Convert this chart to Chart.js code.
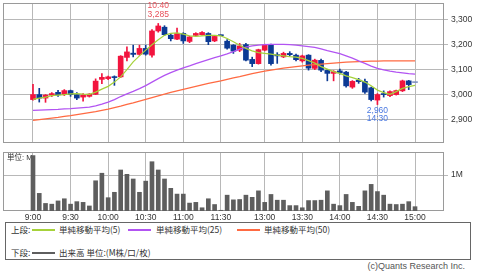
<!DOCTYPE html>
<html>
<head>
<meta charset="utf-8">
<script src="https://cdn.jsdelivr.net/npm/chart.js@4.4.1/dist/chart.umd.min.js"></script>
<style>
  body { margin: 0; width: 480px; height: 272px; background: #fff; position: relative; overflow: hidden;
    font-family: "Liberation Sans", "Noto Sans CJK JP", sans-serif; color: #333; }
  #top { position: absolute; left: 0; top: 0; width: 480px; height: 143px; }
  #vol { position: absolute; left: 0; top: 148px; width: 480px; height: 74px; }
  #legend { position: absolute; left: 5px; top: 222px; width: 464px; height: 36px; border: 1px solid #666;
    font-family: "Noto Sans CJK JP", sans-serif; font-size: 8.5px; }
  #legend span { position: absolute; white-space: nowrap; line-height: 12px; }
  #legend i { position: absolute; height: 0; border-top: 2px solid; }
  #copy { position: absolute; right: 15px; top: 261px; font-size: 9px; color: #555; }
</style>
</head>
<body>
<div id="top"><canvas id="price"></canvas></div>
<div id="vol"><canvas id="volume"></canvas></div>
<div id="legend"></div>
<div id="copy">(c)Quants Research Inc.</div>
<script>
// 5-minute bars, morning + afternoon session
const times = ["9:00","9:05","9:10","9:15","9:20","9:25","9:30","9:35","9:40","9:45","9:50","9:55",
  "10:00","10:05","10:10","10:15","10:20","10:25","10:30","10:35","10:40","10:45","10:50","10:55",
  "11:00","11:05","11:10","11:15","11:20","11:25","11:30",
  "12:30","12:35","12:40","12:45","12:50","12:55","13:00","13:05","13:10","13:15","13:20","13:25",
  "13:30","13:35","13:40","13:45","13:50","13:55","14:00","14:05","14:10","14:15","14:20","14:25",
  "14:30","14:35","14:40","14:45","14:50","14:55","15:00"];
const tickLabels = ["9:00","9:30","10:00","10:30","11:00","11:30","13:00","13:30","14:00","14:30","15:00"];
const priceTicks = [2900, 3000, 3100, 3200, 3300];

const opens = [2980,3000,2986,2998,3009,3000,3016,3000,2990,2993, 3001,3061,3064,3072,3071,3149,3166,3161,3185,3158,
  3255,3270,3238,3222,3245,3213,3237,3240,3245,3215, 3238,3214,3198,3178,3200,3141,3124,3178,3198,3160,
  3151,3165,3158,3135,3158,3105,3137,3097,3085,3095, 3090,3030,3058,3053,3027,2978,3003,2996,3000,3015, 3055,3048];
const closes = [3000,2986,2998,3004,2999,3016,3000,2986,2998,3002, 3054,3069,3071,3068,3154,3171,3161,3185,3162,3255,
  3275,3240,3224,3245,3215,3231,3245,3249,3212,3233, 3236,3186,3174,3195,3138,3124,3180,3199,3124,3155,
  3165,3160,3140,3155,3106,3138,3098,3085,3092,3087, 3035,3053,3052,3010,2980,3000,3000,3012,3016,3055, 3040,3048];
const highs = [3041,3025,3000,3008,3017,3020,3018,3008,3004,3004, 3063,3084,3074,3075,3156,3191,3198,3198,3198,3260,
  3285,3276,3244,3266,3248,3234,3248,3252,3248,3236, 3238,3220,3200,3205,3205,3150,3182,3202,3202,3168,
  3170,3172,3162,3158,3160,3142,3142,3100,3096,3102, 3093,3056,3065,3062,3030,3004,3015,3015,3018,3058, 3057,3048];
const lows = [2978,2970,2969,2992,2993,2996,2993,2980,2974,2990, 3000,3044,3060,3037,3068,3135,3151,3158,3158,3150,
  3250,3236,3215,3220,3205,3208,3235,3238,3200,3212, 3236,3182,3165,3172,3135,3112,3122,3175,3118,3125,
  3148,3155,3135,3130,3098,3100,3092,3055,3055,3082, 3030,3025,3045,3005,2975,2960,2990,2992,2998,3012, 3020,3048];

const ma5 = [2981,2986,2990,2996,2998,3000,3003,3004,3002,3001, 3010,3022,3033,3050,3071,3100,3131,3155,3178,3200,
  3220,3238,3245,3247,3242,3235,3233,3235,3237,3237, 3235,3225,3212,3198,3185,3175,3168,3165,3162,3158,
  3155,3152,3150,3145,3136,3126,3112,3102,3092,3085, 3075,3068,3060,3050,3035,3018,3008,3001,3012,3025, 3032,3037];
const ma25 = [2937,2938,2939,2940,2941,2943,2944,2946,2948,2950, 2955,2962,2970,2980,2992,3003,3013,3024,3036,3050,
  3064,3077,3088,3098,3107,3115,3124,3132,3140,3148, 3155,3163,3172,3182,3190,3195,3198,3200,3201,3201,
  3201,3200,3198,3195,3192,3189,3183,3176,3170,3164, 3155,3146,3135,3125,3114,3105,3099,3094,3090,3087, 3084,3082];
const ma50 = [2897,2900,2903,2906,2909,2913,2916,2920,2924,2928, 2932,2937,2942,2948,2954,2961,2967,2974,2981,2988,
  2995,3002,3009,3015,3021,3027,3033,3039,3045,3050, 3055,3061,3067,3072,3078,3084,3089,3094,3098,3102,
  3106,3109,3112,3115,3118,3120,3122,3124,3126,3128, 3130,3131,3132,3133,3134,3134,3135,3135,3135,3135, 3135,3135];

// volume, millions
const volumes = [1.54,0.49,0.21,0.19,0.28,0.34,0.19,0.26,0.24,0.14, 0.84,1.05,0.37,0.52,1.14,1.02,0.89,0.52,0.83,1.37,
  1.14,0.89,0.63,0.47,0.47,0.22,0.24,0.09,0.34,0.18, 0.02,0.44,0.31,0.32,0.44,0.38,0.56,0.24,0.46,0.30,
  0.30,0.15,0.15,0.09,0.29,0.29,0.30,0.56,0.19,0.15, 0.46,0.24,0.13,0.56,0.74,0.54,0.44,0.19,0.18,0.19, 0.26,0.12];
const volTicks = [1];

const legendTop = ["単純移動平均(5)", "単純移動平均(25)", "単純移動平均(50)"];
const legendBottom = ["出来高 単位:(M株/口/枚)"];

// styling
const UP = "#f2143e", DOWN = "#0c3a94", DOJI = "#8496c4";
const C5 = "#a6d23a", C25 = "#b254f2", C50 = "#ff6a42", VOLC = "#5e5e5e";
const GRID = "#b8b8b8", FRAME = "#9a9a9a";
const FONT = "'Liberation Sans', 'Noto Sans CJK JP', sans-serif";
const X_MIN = -4.79, X_MAX = 65.63;

Chart.defaults.font.family = FONT;
Chart.defaults.font.size = 8.5;
Chart.defaults.color = "#333";

const idx = times.map((_, i) => i);
const tickIdx = tickLabels.map((t) => times.indexOf(t));
const candleCol = idx.map((i) => closes[i] > opens[i] ? UP : closes[i] < opens[i] ? DOWN : DOJI);
const fmt = (n) => n.toLocaleString("en-US");
// drop the label overhang padding so the plot box sits where we put it
const noPad = (s) => { s.paddingTop = s.paddingBottom = s.paddingLeft = s.paddingRight = 0; };

const frame = {
  id: "frame",
  beforeDatasetsDraw(c) {
    const a = c.chartArea, ctx = c.ctx;
    ctx.save();
    ctx.strokeStyle = FRAME; ctx.lineWidth = 1;
    ctx.strokeRect(Math.round(a.left) + 0.5, Math.round(a.top) + 0.5,
      Math.round(a.width) - 1, Math.round(a.height) - 1);
    ctx.restore();
  },
};

const xScale = (showLabels) => ({
  type: "linear", min: X_MIN, max: X_MAX, offset: false,
  afterBuildTicks: (s) => { s.ticks = tickIdx.map((v) => ({ value: v })); },
  afterFit: (s) => { s.height = showLabels ? 11 : 0; noPad(s); },
  grid: { color: GRID, drawTicks: false, offset: false },
  border: { display: false },
  ticks: { display: showLabels, padding: 2, maxRotation: 0, autoSkip: false,
    callback: (v) => tickLabels[tickIdx.indexOf(v)] },
});

// high / low markers
const extremes = {
  id: "extremes",
  afterDatasetsDraw(c) {
    const ctx = c.ctx, x = c.scales.x, y = c.scales.y;
    const hi = highs.indexOf(Math.max(...highs));
    const lo = lows.indexOf(Math.min(...lows));
    ctx.save();
    ctx.font = `8.5px ${FONT}`;
    ctx.textAlign = "center"; ctx.textBaseline = "middle";
    const hx = x.getPixelForValue(hi), hy = y.getPixelForValue(highs[hi]);
    ctx.fillStyle = "#e8505a";
    ctx.fillText(times[hi], hx, hy - 18);
    ctx.fillText(fmt(highs[hi]), hx, hy - 9);
    const lx = x.getPixelForValue(lo), ly = y.getPixelForValue(lows[lo]);
    ctx.fillStyle = "#4a78e0";
    ctx.fillText(fmt(lows[lo]), lx, ly + 6);
    ctx.fillText(times[lo], lx, ly + 14.5);
    ctx.restore();
  },
};

new Chart(document.getElementById("price"), {
  type: "bar",
  data: {
    datasets: [
      { type: "line", data: idx.map((i) => ({ x: i, y: ma5[i] })), borderColor: C5, borderWidth: 1.2, pointRadius: 0, order: 1 },
      { type: "line", data: idx.map((i) => ({ x: i, y: ma25[i] })), borderColor: C25, borderWidth: 1.2, pointRadius: 0, order: 1 },
      { type: "line", data: idx.map((i) => ({ x: i, y: ma50[i] })), borderColor: C50, borderWidth: 1.2, pointRadius: 0, order: 1 },
      { data: idx.map((i) => ({ x: i, y: [opens[i], closes[i]] })), backgroundColor: candleCol,
        barThickness: 5, minBarLength: 1, grouped: false, order: 2 },
      { data: idx.map((i) => ({ x: i, y: [lows[i], highs[i]] })), backgroundColor: candleCol,
        barThickness: 1, grouped: false, order: 3 },
    ],
  },
  options: {
    animation: false, responsive: true, maintainAspectRatio: false, devicePixelRatio: 1,
    layout: { padding: { left: 3, top: 3, right: 0, bottom: 0 } },
    plugins: { legend: { display: false }, tooltip: { enabled: false } },
    scales: {
      x: xScale(false),
      y: {
        position: "right", min: 2806, max: 3367,
        afterBuildTicks: (s) => { s.ticks = priceTicks.map((v) => ({ value: v })); },
        afterFit: (s) => { s.width = 36; noPad(s); },
        grid: { color: GRID, tickLength: 4 },
        border: { display: false },
        ticks: { padding: 3, callback: (v) => fmt(v) },
      },
    },
  },
  plugins: [frame, extremes],
});

const unitLabel = {
  id: "unitLabel",
  beforeDatasetsDraw(c) {
    const ctx = c.ctx, a = c.chartArea;
    ctx.save();
    ctx.font = `7.5px ${FONT}`;
    ctx.fillStyle = "#333"; ctx.textBaseline = "middle";
    ctx.fillText("単位: M", a.left + 4, a.top + 5.5);
    ctx.restore();
  },
};

new Chart(document.getElementById("volume"), {
  type: "bar",
  data: {
    datasets: [{ data: idx.map((i) => ({ x: i, y: volumes[i] })), backgroundColor: VOLC, barThickness: 4 }],
  },
  options: {
    animation: false, responsive: true, maintainAspectRatio: false, devicePixelRatio: 1,
    layout: { padding: { left: 3, top: 4, right: 0, bottom: 0 } },
    plugins: { legend: { display: false }, tooltip: { enabled: false } },
    scales: {
      x: xScale(true),
      y: {
        position: "right", min: 0, max: 1.64,
        afterBuildTicks: (s) => { s.ticks = volTicks.map((v) => ({ value: v })); },
        afterFit: (s) => { s.width = 36; noPad(s); },
        grid: { color: GRID, tickLength: 4 },
        border: { display: false },
        ticks: { padding: 3, callback: (v) => v + "M" },
      },
    },
  },
  plugins: [frame, unitLabel],
});

// legend box
const lg = document.getElementById("legend");
const item = (html) => { lg.insertAdjacentHTML("beforeend", html); };
item(`<span style="left:5px;top:0px">上段:</span>`);
[[C5, 26, 53], [C25, 122, 150], [C50, 231, 258]].forEach(([col, lx, tx], k) => {
  item(`<i style="left:${lx}px;width:23px;top:6px;border-color:${col}"></i>`);
  item(`<span style="left:${tx}px;top:0px">${legendTop[k]}</span>`);
});
item(`<span style="left:5px;top:23px">下段:</span>`);
item(`<i style="left:26px;width:23px;top:29px;border-color:${VOLC}"></i>`);
item(`<span style="left:53px;top:23px">${legendBottom[0]}</span>`);
</script>
</body>
</html>
